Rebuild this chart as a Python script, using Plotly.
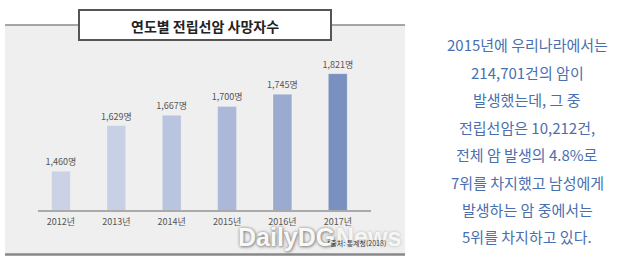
import plotly.graph_objects as go

years = ["2012년", "2013년", "2014년", "2015년", "2016년", "2017년"]
deaths = [1460, 1629, 1667, 1700, 1745, 1821]
labels = ["1,460명", "1,629명", "1,667명", "1,700명", "1,745명", "1,821명"]
bar_colors = ["#cbd2e6", "#c8d0e5", "#b9c4de", "#abb8d8", "#9babcf", "#7a91c0"]
title_text = "연도별 전립선암 사망자수"
source_text = "*출처: 통계청(2018)"
body_lines = [
    "2015년에 우리나라에서는",
    "214,701건의 암이",
    "발생했는데, 그 중",
    "전립선암은 10,212건,",
    "전체 암 발생의 4.8%로",
    "7위를 차지했고 남성에게",
    "발생하는 암 중에서는",
    "5위를 차지하고 있다.",
]

W, H = 630, 269
def px(x):
    return x / W
def py(y):
    return 1 - y / H

fig = go.Figure()
fig.add_trace(go.Bar(
    x=list(range(len(years))), y=deaths,
    marker=dict(color=bar_colors, line=dict(color="rgba(255,255,255,0.5)", width=0.5)),
    width=0.34,
    text=labels, textposition="outside", cliponaxis=False, constraintext="none",
    textfont=dict(family="Noto Sans CJK KR", size=9, color="#555555"),
    hoverinfo="skip",
))

shapes = [
    dict(type="rect", xref="paper", yref="paper", x0=px(5), x1=px(405), y0=py(254), y1=py(25),
         fillcolor="#efefef", line=dict(width=0), layer="below"),
    dict(type="line", xref="paper", yref="paper", x0=px(5), x1=px(405), y0=py(25), y1=py(25),
         line=dict(color="#8a8a8a", width=1.5), layer="below"),
    dict(type="line", xref="paper", yref="paper", x0=px(5), x1=px(405), y0=py(254.5), y1=py(254.5),
         line=dict(color="#888888", width=2.5)),
    dict(type="rect", xref="paper", yref="paper", x0=px(79), x1=px(331), y0=py(40), y1=py(10),
         fillcolor="#ffffff", line=dict(color="#555555", width=2)),
]

wm_font = "Liberation Sans"
annotations = [
    dict(text="<b>" + title_text + "</b>", x=px(205), y=py(25.5), xref="paper", yref="paper",
         showarrow=False, xanchor="center", yanchor="middle",
         font=dict(family="Noto Sans CJK KR", size=14, color="#222222")),
    dict(text="<b>DailyDG</b>", x=px(236), y=py(237), xref="paper", yref="paper",
         showarrow=False, xanchor="left", yanchor="middle",
         font=dict(family=wm_font, size=25, color="rgba(255,255,255,0.95)",
                   shadow="0px 0px 3px #8a8a8a, 1px 1px 3px #8a8a8a")),
    dict(text="<b>News</b>", x=px(334), y=py(237), xref="paper", yref="paper",
         showarrow=False, xanchor="left", yanchor="middle",
         font=dict(family=wm_font, size=25, color="rgba(255,255,255,0.85)",
                   shadow="0px 0px 3px #aaaaaa")),
    dict(text=source_text, x=px(388), y=py(243), xref="paper", yref="paper",
         showarrow=False, xanchor="right", yanchor="middle",
         font=dict(family="Noto Sans CJK KR", size=7, color="#333333")),
]

y0, dy = 45, 27.4
for i, line in enumerate(body_lines):
    annotations.append(dict(
        text=line, x=px(527), y=py(y0 + i * dy), xref="paper", yref="paper",
        showarrow=False, xanchor="center", yanchor="middle",
        font=dict(family="Noto Sans CJK KR", size=15, color="#4a6fae"),
    ))

fig.update_layout(
    width=W, height=H, margin=dict(l=0, r=0, t=0, b=0),
    paper_bgcolor="#ffffff", plot_bgcolor="rgba(0,0,0,0)",
    showlegend=False, shapes=shapes, annotations=annotations,
    xaxis=dict(domain=[px(38), px(371)], range=[-0.415, 5.6],
               tickmode="array", tickvals=list(range(len(years))), ticktext=years,
               showline=True, linecolor="#aaaaaa", linewidth=1.5,
               showgrid=False, zeroline=False, ticks="outside", ticklen=2,
               tickcolor="rgba(0,0,0,0)",
               tickfont=dict(family="Noto Sans CJK KR", size=9, color="#555555"),
               fixedrange=True),
    yaxis=dict(domain=[py(210), py(40)], range=[1316, 1946], visible=False,
               showgrid=False, zeroline=False, fixedrange=True),
)

fig.write_html("out.html")
